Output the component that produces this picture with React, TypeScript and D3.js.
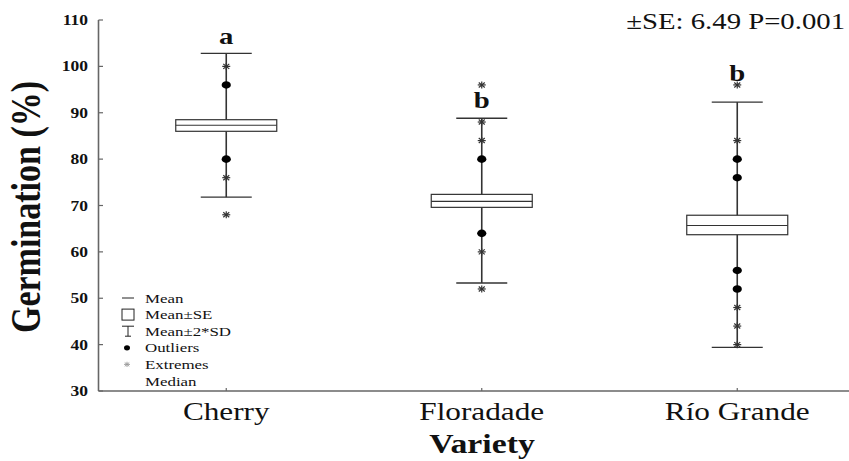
import React from "react";
import * as d3 from "d3";

const categories = ["Cherry", "Floradade", "Río Grande"];
const means = [87.3, 70.9, 65.7];
const seLow = [86.0, 69.6, 63.7];
const seHigh = [88.5, 72.4, 67.9];
const sdLow = [71.8, 53.3, 39.4];
const sdHigh = [102.8, 88.8, 92.3];
const outliers = [
  [96, 80],
  [80, 64],
  [80, 76, 56, 52],
];
const extremes = [
  [100, 76, 68],
  [96, 88, 84, 60, 52],
  [96, 84, 48, 44, 40],
];
const letters = ["a", "b", "b"];
const letterValues = [104.8, 91.0, 96.8];
const yTicks = [30, 40, 50, 60, 70, 80, 90, 100, 110];
const legendItems = ["Mean", "Mean±SE", "Mean±2*SD", "Outliers", "Extremes", "Median"];

const W = 849;
const H = 461;
const FONT = "'Liberation Serif', 'Times New Roman', serif";
const SX = 1.25;

function SText(props: any) {
  const { x, y, size, weight = "normal", anchor = "start", sx = SX, children, fill = "#111" } = props;
  return (
    <text
      transform={`translate(${x},${y}) scale(${sx},1)`}
      fontSize={size}
      fontWeight={weight}
      textAnchor={anchor}
      fontFamily={FONT}
      fill={fill}
    >
      {children}
    </text>
  );
}

function Asterisk({ cx, cy, color = "#333" }: any) {
  return (
    <g stroke={color} strokeWidth={1.2}>
      <line x1={cx - 4} x2={cx + 4} y1={cy} y2={cy} />
      <line x1={cx} x2={cx} y1={cy - 3.5} y2={cy + 3.5} />
      <line x1={cx - 3} x2={cx + 3} y1={cy - 2.5} y2={cy + 2.5} />
      <line x1={cx - 3} x2={cx + 3} y1={cy + 2.5} y2={cy - 2.5} />
    </g>
  );
}

export default function App() {
  const y = d3.scaleLinear().domain([30, 110]).range([391, 20]);
  const x = d3.scaleBand().domain(categories).range([98.5, 98.5 + 3 * 255.5]);
  const cx = (c: string) => (x(c) as number) + x.bandwidth() / 2;
  const boxW = 101;
  const capW = 51;
  const axisColor = "#666";
  const lineColor = "#333";

  return (
    <svg width={W} height={H} style={{ position: "absolute", left: 0, top: 0, background: "#fff" }}>
      {/* axes */}
      <line x1={98.5} x2={98.5} y1={y(110)} y2={y(30)} stroke={axisColor} strokeWidth={1.6} />
      <line x1={98.5} x2={W} y1={y(30)} y2={y(30)} stroke={axisColor} strokeWidth={1.6} />
      {yTicks.map((t) => (
        <g key={t}>
          <line x1={98.5} x2={103} y1={y(t)} y2={y(t)} stroke={axisColor} strokeWidth={1.2} />
          <SText x={88} y={y(t) + 5} size={14} weight="bold" anchor="end">
            {t}
          </SText>
        </g>
      ))}
      {categories.map((c) => (
        <line key={c} x1={cx(c)} x2={cx(c)} y1={y(30)} y2={y(30) - 3} stroke={axisColor} strokeWidth={1.2} />
      ))}
      {categories.map((c) => (
        <SText key={c} x={cx(c)} y={420} size={25} anchor="middle">
          {c}
        </SText>
      ))}
      <SText x={482} y={453} size={27} weight="bold" anchor="middle">
        Variety
      </SText>
      <text
        transform={`translate(40,207) scale(${SX},1) rotate(-90)`}
        fontSize={34}
        fontWeight="bold"
        textAnchor="middle"
        fontFamily={FONT}
        fill="#111"
      >
        Germination (%)
      </text>
      <SText x={845} y={29} size={23} anchor="end">
        ±SE: 6.49 P=0.001
      </SText>

      {/* boxes */}
      {categories.map((c, i) => {
        const m = cx(c);
        return (
          <g key={c}>
            <line x1={m} x2={m} y1={y(sdHigh[i])} y2={y(sdLow[i])} stroke={lineColor} strokeWidth={1.6} />
            <line x1={m - capW / 2} x2={m + capW / 2} y1={y(sdHigh[i])} y2={y(sdHigh[i])} stroke={lineColor} strokeWidth={1.4} />
            <line x1={m - capW / 2} x2={m + capW / 2} y1={y(sdLow[i])} y2={y(sdLow[i])} stroke={lineColor} strokeWidth={1.4} />
            <rect
              x={m - boxW / 2}
              y={y(seHigh[i])}
              width={boxW}
              height={y(seLow[i]) - y(seHigh[i])}
              fill="#fff"
              stroke={lineColor}
              strokeWidth={1.2}
            />
            <line x1={m - boxW / 2} x2={m + boxW / 2} y1={y(means[i])} y2={y(means[i])} stroke={lineColor} strokeWidth={1.1} />
            {outliers[i].map((v, j) => (
              <ellipse key={"o" + j} cx={m} cy={y(v)} rx={4.6} ry={3.8} fill="#000" />
            ))}
            {extremes[i].map((v, j) => (
              <Asterisk key={"e" + j} cx={m} cy={y(v)} />
            ))}
            <SText x={m} y={y(letterValues[i])} size={23} weight="bold" anchor="middle">
              {letters[i]}
            </SText>
          </g>
        );
      })}

      {/* legend */}
      {legendItems.map((label, i) => {
        const ly = 298 + i * 16.6;
        const sx0 = 127;
        let sym: any = null;
        if (i === 0) sym = <line x1={sx0 - 5} x2={sx0 + 7} y1={ly} y2={ly} stroke="#222" strokeWidth={1} />;
        if (i === 1) sym = <rect x={sx0 - 5} y={ly - 5.5} width={12} height={11} fill="none" stroke="#222" strokeWidth={1} />;
        if (i === 2)
          sym = (
            <g stroke="#222" strokeWidth={1}>
              <line x1={sx0 - 5} x2={sx0 + 7} y1={ly - 5} y2={ly - 5} />
              <line x1={sx0 + 1} x2={sx0 + 1} y1={ly - 5} y2={ly + 5} />
              <line x1={sx0 - 2} x2={sx0 + 4} y1={ly + 5} y2={ly + 5} />
            </g>
          );
        if (i === 3) sym = <ellipse cx={sx0} cy={ly} rx={3} ry={2.6} fill="#000" />;
        if (i === 4)
          sym = (
            <g transform={`translate(${sx0},${ly}) scale(0.75)`}>
              <Asterisk cx={0} cy={0} color="#999" />
            </g>
          );
        return (
          <g key={label}>
            {sym}
            <SText x={145} y={ly + 4.5} size={13.5}>
              {label}
            </SText>
          </g>
        );
      })}
    </svg>
  );
}
